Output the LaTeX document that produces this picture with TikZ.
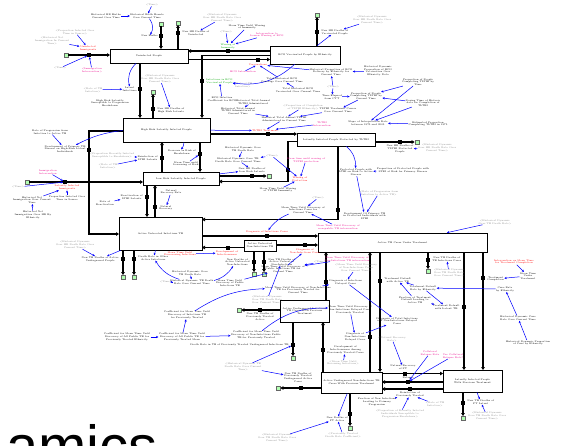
\documentclass[tikz,border=0pt]{standalone}
\usepackage{fontspec}
\setsansfont{Liberation Sans}
\usetikzlibrary{arrows.meta,shadows}
\begin{document}
\begin{tikzpicture}[x=1pt,y=-1pt,
 v/.style={font=\fontsize{2.4}{2.8}\selectfont, align=center, inner sep=0.2pt},
 sh/.style={v, text=black!45},
 rd/.style={v, text=red},
 mg/.style={v, text=magenta},
 gn/.style={v, text=green!65!black},
 stock/.style={draw, line width=0.7pt, fill=white, font=\fontsize{2.4}{2.8}\selectfont, align=center, inner sep=0pt,
   drop shadow={shadow xshift=0.9pt, shadow yshift=-0.9pt, fill=black!55, opacity=1}},
 valve/.style={fill=black, minimum width=3.6pt, minimum height=4pt, inner sep=0pt},
 cloud/.style={draw=black!60, fill=green!30!white, minimum width=4.5pt, minimum height=3.6pt, inner sep=0pt, line width=0.3pt},
 pipe/.style={line width=1.2pt},
 flow/.style={pipe, -{Triangle[length=3pt,width=3.6pt]}},
 ar/.style={blue, line width=0.5pt, -{Stealth[length=2.4pt,width=2.2pt]}},
]
\useasboundingbox[fill=white] (0,0) rectangle (583,445);

% ---------------- stocks ----------------
\node[stock, minimum width=78pt, minimum height=14pt] (U) at (149,56) {Uninfected People};
\node[stock, minimum width=70pt, minimum height=18pt] (B) at (305,55) {BCG Vaccinated People by Ethnicity};
\node[stock, minimum width=87pt, minimum height=24pt] (H) at (166.5,130) {High Risk Latently Infected People};
\node[stock, minimum width=76pt, minimum height=13pt] (L) at (181,178.5) {Low Risk Latently Infected People};
\node[stock, minimum width=78pt, minimum height=13pt] (P) at (336,139.5) {Latently Infected People Protected by TLTBI};
\node[stock, minimum width=83pt, minimum height=33pt] (AU) at (160.5,233.5) {Active Untreated Infectious TB};
\node[stock, minimum width=32pt, minimum height=11pt] (AN) at (260,245.5) {Active Untreated\\Non-Infectious TB};
\node[stock, minimum width=169pt, minimum height=19pt] (AT) at (402.5,242.5) {Active TB Cases Under Treatment};
\node[stock, minimum width=49pt, minimum height=22pt] (PI) at (304.5,311) {Active Undiagnosed Infectious\\TB Cases With Previous\\Treatment};
\node[stock, minimum width=61pt, minimum height=21pt] (PN) at (351.5,382.5) {Active Undiagnosed Non-Infectious TB\\Cases With Previous Treatment};
\node[stock, minimum width=59pt, minimum height=22pt] (PL) at (472.5,381) {Latently Infected People\\With Previous Treatment};

% ---------------- clouds ----------------
\node[cloud] (c1) at (161,24) {};
\node[cloud] (c2) at (178,23) {};
\node[cloud] (c3) at (66,55) {};
\node[cloud] (c8) at (317,15) {};
\node[cloud] (c9) at (153,92) {};
\node[cloud] (c13) at (27,182) {};
\node[cloud] (c16) at (269,176) {};
\node[cloud] (c19) at (417,142) {};
\node[cloud] (c24) at (254,274) {};
\node[cloud] (c25) at (264,274) {};
\node[cloud] (c26) at (123,277) {};
\node[cloud] (c27) at (134,277) {};
\node[cloud] (c31) at (428,271) {};
\node[cloud] (c34) at (239,310) {};
\node[cloud] (c35) at (293,358) {};
\node[cloud] (c37) at (278,388) {};
\node[cloud] (c38) at (350,428) {};
\node[cloud] (c42) at (463,418) {};

% ---------------- flow end points ----------------
\coordinate (p1) at (161,49);   \coordinate (p2) at (178,49);
\coordinate (p3) at (110,55);
\coordinate (p4a) at (140,63);  \coordinate (p4b) at (140,118);
\coordinate (p5a) at (270,51);  \coordinate (p5b) at (188,51);
\coordinate (p6a) at (270,55.5);\coordinate (p6k) at (202,55.5); \coordinate (p6b) at (202,118);
\coordinate (p7a) at (188,59.5);\coordinate (p7b) at (270,59.5);
\coordinate (p8) at (317,46);   \coordinate (p9) at (153,118);
\coordinate (p10a) at (123,131);\coordinate (p10k) at (89,131); \coordinate (p10m) at (89,234); \coordinate (p10b) at (119,234);
\coordinate (p11a) at (162,172);\coordinate (p11b) at (162,142);
\coordinate (p12a) at (200,142);\coordinate (p12b) at (200,172);
\coordinate (p13) at (143,182);
\coordinate (p14a) at (147,185);\coordinate (p14b) at (147,217);
\coordinate (p15a) at (155,217);\coordinate (p15b) at (155,185);
\coordinate (p16) at (219,176);
\coordinate (p17a) at (210,134);\coordinate (p17b) at (297,134);
\coordinate (p18a) at (297,141.5);\coordinate (p18k) at (288,141.5);\coordinate (p18m) at (288,181.5);\coordinate (p18b) at (219,181.5);
\coordinate (p19) at (375,142);
\coordinate (p20a) at (338,146);\coordinate (p20k) at (338,219.5);\coordinate (p20b) at (202,219.5);
\coordinate (p21a) at (202,236);\coordinate (p21b) at (318,236);
\coordinate (p22a) at (276,245);\coordinate (p22b) at (318,245);
\coordinate (p23a) at (244,247.5);\coordinate (p23b) at (202,247.5);
\coordinate (p24) at (254,251); \coordinate (p25) at (264,251);
\coordinate (p26) at (123,250); \coordinate (p27) at (134,250);
\coordinate (p28a) at (326,300);\coordinate (p28b) at (326,252);
\coordinate (p29a) at (380,252);\coordinate (p29b) at (380,372);
\coordinate (p30a) at (370,372);\coordinate (p30b) at (370,252);
\coordinate (p31) at (428,252);
\coordinate (p32a) at (464,252);\coordinate (p32b) at (464,370);
\coordinate (p33a) at (483,252);\coordinate (p33b) at (483,370);
\coordinate (p34) at (280,310);
\coordinate (p35) at (293,322);
\coordinate (p36a) at (323,372);\coordinate (p36b) at (323,322);
\coordinate (p37) at (321,388);
\coordinate (p38) at (350,393);
\coordinate (p39a) at (382,373.5);\coordinate (p39b) at (443,373.5);
\coordinate (p40a) at (443,382);\coordinate (p40b) at (382,382);
\coordinate (p41a) at (443,389);\coordinate (p41b) at (382,389);
\coordinate (p42) at (463,392);

% ---------------- pipes ----------------
\draw[flow] (c1) -- (p1);
\draw[flow] (p2) -- (c2);
\draw[flow] (c3) -- (p3);
\draw[flow] (p4a) -- (p4b);
\draw[flow] (p5a) -- (p5b);
\draw[flow] (p6a) -- (p6k) -- (p6b);
\draw[flow] (p7a) -- (p7b);
\draw[flow] (p8) -- (c8);
\draw[flow] (p9) -- (c9);
\draw[flow] (p10a) -- (p10k) -- (p10m) -- (p10b);
\draw[flow] (p11a) -- (p11b);
\draw[flow] (p12a) -- (p12b);
\draw[flow] (c13) -- (p13);
\draw[flow] (p14a) -- (p14b);
\draw[flow] (p15a) -- (p15b);
\draw[flow] (p16) -- (c16);
\draw[flow] (p17a) -- (p17b);
\draw[flow] (p18a) -- (p18k) -- (p18m) -- (p18b);
\draw[flow] (p19) -- (c19);
\draw[flow] (p20a) -- (p20k) -- (p20b);
\draw[flow] (p21a) -- (p21b);
\draw[flow] (p22a) -- (p22b);
\draw[flow] (p23a) -- (p23b);
\draw[flow] (p24) -- (c24);
\draw[flow] (p25) -- (c25);
\draw[flow] (p26) -- (c26);
\draw[flow] (p27) -- (c27);
\draw[flow] (p28a) -- (p28b);
\draw[flow] (p29a) -- (p29b);
\draw[flow] (p30a) -- (p30b);
\draw[flow] (p31) -- (c31);
\draw[flow] (p32a) -- (p32b);
\draw[flow] (p33a) -- (p33b);
\draw[flow] (p34) -- (c34);
\draw[flow] (p35) -- (c35);
\draw[flow] (p36a) -- (p36b);
\draw[flow] (p37) -- (c37);
\draw[flow] (p38) -- (c38);
\draw[flow] (p39a) -- (p39b);
\draw[flow] (p40a) -- (p40b);
\draw[flow] (p41a) -- (p41b);
\draw[flow] (p42) -- (c42);

% ---------------- valves ----------------
\node[valve] (v1) at (161,36) {};   \node[valve] (v2) at (178,33) {};
\node[valve] (v3) at (89,55) {};    \node[valve] (v4) at (140,89) {};
\node[valve] (v5) at (228,51) {};   \node[valve] (v6) at (202,81) {};
\node[valve] (v7) at (258,59.5) {}; \node[valve] (v8) at (317,32) {};
\node[valve] (v9) at (153,109) {};  \node[valve] (v10) at (89,150) {};
\node[valve] (v11) at (162,158) {}; \node[valve] (v12) at (200,154) {};
\node[valve] (v13) at (65,182) {};  \node[valve] (v14) at (147,197) {};
\node[valve] (v15) at (155,207) {}; \node[valve] (v16) at (252,176) {};
\node[valve] (v17) at (268,134) {}; \node[valve] (v18) at (288,170) {};
\node[valve] (v19) at (400,142) {}; \node[valve] (v20) at (338,210) {};
\node[valve] (v21) at (267,236) {}; \node[valve] (v22) at (305,245) {};
\node[valve] (v23) at (228,247.5) {};\node[valve] (v24) at (254,262) {};
\node[valve] (v25) at (264,262) {}; \node[valve] (v26) at (123,259) {};
\node[valve] (v27) at (134,259) {}; \node[valve] (v28) at (326,282) {};
\node[valve] (v29) at (380,281) {}; \node[valve] (v30) at (370,337) {};
\node[valve] (v31) at (428,260) {}; \node[valve] (v32) at (464,307) {};
\node[valve] (v33) at (483,278) {}; \node[valve] (v34) at (260,310) {};
\node[valve] (v35) at (293,345) {}; \node[valve] (v36) at (323,350) {};
\node[valve] (v37) at (301,388) {}; \node[valve] (v38) at (350,414) {};
\node[valve] (v39) at (405,373.5) {};\node[valve] (v40) at (408,382) {};
\node[valve] (v41) at (410,389) {}; \node[valve] (v42) at (463,403) {};

% ---------------- flow labels ----------------
\node[v, anchor=east] (l1) at (158,36) {New Births};
\node[v, anchor=west] (l2) at (182,33) {New HR Deaths of\\Uninfected};
\node[rd] (l3) at (88,48) {Uninfected\\Immigrants};
\node[v, anchor=east] (l4) at (137,89) {Latent\\Infections};
\node[gn] (l5) at (228,46) {Waning of\\Immunity};
\node[gn, anchor=west] (l6) at (206,81) {Infections in BCG\\Vaccinated People};
\node[rd] (l7) at (258,64.5) {Vaccinations};
\node[v, anchor=west] (l8) at (321,32) {New HR Deaths of\\Vaccinated People};
\node[v, anchor=west] (l9) at (157,110) {New HR Deaths of\\High Risk Latents};
\node[v, anchor=east] (l10) at (86,149) {Development of Primary TB\\Disease on High-Risk Latent\\Individuals};
\node[v, anchor=east] (l11) at (158,158) {Reinfection of\\LTBI Latents};
\node[v, anchor=east] (l12) at (196,152) {Decrease in Risk of\\Breakdown};
\node[rd] (l13) at (67,187.5) {Latently Infected\\Immigrants};
\node[v, anchor=east] (l14) at (143,197) {Reactivation of\\LTBI Latents};
\node[v, anchor=west] (l15) at (159,208) {Natural\\Recovery};
\node[v] (l16) at (252,170) {New HR Deaths of\\Low Risk Latents};
\node[rd] (l17) at (265,130.5) {TLTBI Treatment};
\node[rd, anchor=west] (l18) at (292,179) {Waning of\\Protection};
\node[v] (l19) at (400,149) {New HR Deaths of\\TLTBI Protected\\People};
\node[v, anchor=west] (l20) at (343,216) {Development Of Primary TB\\in Protected Individuals with\\LTBI};
\node[rd] (l21) at (267,231.5) {Diagnosis of Infectious Cases};
\node[rd] (l22) at (305,251) {Diagnosis of\\Non-Infectious Cases};
\node[rd] (l23) at (227,253) {Development of\\Infectiousness};
\node[v, anchor=east] (l24) at (250,262) {New Deaths of\\Active Untreated\\Non-Infectious};
\node[v, anchor=west] (l25) at (268,262) {New TB Deaths of\\Active Untreated\\Non-Infectious};
\node[v, anchor=east] (l26) at (119,259) {New TB Deaths of Active\\Undiagnosed People};
\node[v, anchor=west] (l27) at (138,258) {Death Rate in Other\\Active Infectious};
\node[v, anchor=west] (l28) at (329,282) {Diagnosis of Infectious\\Delayed Cases};
\node[v, anchor=west] (l29) at (384,280) {Treatment Default\\with Active TB};
\node[v, anchor=east] (l30) at (366,337) {Diagnosis of\\Non-Infectious\\Delayed Cases};
\node[v, anchor=west] (l31) at (432,259) {New TB Deaths of\\TB Infectious Cases};
\node[v, anchor=east] (l32) at (460,307) {Treatment Default\\with Latent TB};
\node[v, anchor=west] (l33) at (487,279) {Treatment\\Completion};
\node[v] (l34) at (260,316.5) {New TB Deaths of\\Previously Treated\\Active};
\node[v, anchor=east] (l35) at (289,345) {Death Rate in TB of Previously Treated Undiagnosed Infectious TB};
\node[v, anchor=west] (l36) at (327,350) {Development of\\Infectiousness Among\\Previously Treated Cases};
\node[v] (l37) at (298,377.5) {New TB Deaths of\\Previously Treated\\Undiagnosed Active\\Cases};
\node[v, anchor=east] (l38) at (348,419) {New Deaths of\\PT Active};
\node[v] (l39) at (403,367.5) {Natural Recovery\\of PT};
\node[v] (l40) at (408,378.3) {Relapse};
\node[v] (l41) at (410,394.5) {Reinfection of\\Previously Treated};
\node[v, anchor=west] (l42) at (467,402) {New TB Deaths of\\PT Latent};

% ---------------- auxiliaries: top ----------------
\node[sh] (tm1) at (152,5) {<Time>};
\node[v] (hbe) at (147,16) {Historical Birth Events\\Over Current Time};
\node[v] (hbr) at (106,16) {Historical HR Births\\Current Over Time};
\draw[ar] (tm1) -- (hbe);
\draw[ar] (hbr) -- (hbe);
\draw[ar] (hbe) to[bend left=35] (l1);
\node[sh] (hd1) at (222,18) {<Historical Dynamic\\Over HR Death Rate Over\\Current Time>};
\draw[ar] (hd1) -- (l2);
\node[sh] (pit) at (75,32) {<Proportion Infected Over\\Time in Source>};
\node[sh] (hni) at (52,41) {<Historical Net\\Immigration In Current\\Time>};
\node[sh] (tm2) at (60,68) {<Time>};
\node[mg] (ii) at (92,70) {<Immigration\\Intervention>};
\draw[ar] (pit) -- (l3); \draw[ar] (hni) -- (l3);
\draw[ar] (tm2) -- (v3); \draw[ar] (ii) -- (v3);
\draw[ar] (U) to[bend right=30] (l4);
\node[sh] (rti1) at (93,90) {<Rate of TB\\Infection>};
\draw[ar] (rti1) -- (l4);
\node[v] (hrs) at (110,103) {High Risk Latently\\Susceptible to Progression\\Breakdown};
\node[sh] (hd9) at (160,79) {<Historical Dynamic\\Over HR Death Rate Over\\Current Time>};
\draw[ar] (hd9) -- (l9);
\node[sh] (tm3) at (226,32) {<Time>};
\node[v] (mtw) at (247,27) {Mean Time Until Waning\\of Immunity};
\node[mg] (ilw) at (267,35) {Intervention to\\Lessen Waning of BCG};
\draw[ar] (tm3) -- (l5); \draw[ar] (mtw) -- (l5); \draw[ar] (ilw) -- (l5);
\node[mg] (bi) at (243,72) {BCG Intervention};
\draw[ar] (bi) -- (l7);
\node[sh] (rti2) at (243,85) {<Rate of TB\\Infection>};
\node[v] (bcgc) at (222,99) {BCG Infection\\Coefficient for BCG};
\draw[ar] (rti2) -- (l6); \draw[ar] (bcgc) -- (l6);
\draw[ar] (B) to[bend left=25] (l6);
\node[sh] (hd2) at (372,20) {<Historical Dynamic\\Over HR Death Rate Over\\Current Time>};
\draw[ar] (hd2) -- (l8);
\draw[ar] (B) -- (l8);
\node[v] (hdpb) at (378,71) {Historical Dynamic\\Proportion of BCG\\Vaccination Over\\Ethnicity Data};
\node[v] (hpb) at (331,72) {Historical Proportion of BCG\\Delivery by Ethnicity for\\Current Time};
\draw[ar] (hdpb) -- (hpb);
\draw[ar] (hpb) -- (l7);
\node[v] (thbc) at (282,80) {Total Historical BCG\\Coverage Over Current Time};
\node[v] (thbv) at (298,90) {Total Historical BCG\\Vaccinated Over Current Time};
\draw[ar] (thbc) -- (l7); \draw[ar] (thbv) -- (thbc);
\node[sh] (tm4) at (333,87) {<Time>};
\node[v] (te) at (332,97) {Time Elapsed\\from CTT};
\draw[ar] (tm4) -- (hpb); \draw[ar] (tm4) -- (te);
\node[v] (pct) at (366,96) {Proportion of People\\Completing TLTBI by\\Current Time};
\draw[ar] (te) -- (pct);
\node[v] (pct2) at (418,82) {Proportion of People\\Completing TLTBI by\\Time};
\node[v] (dt) at (423,103) {Dosing Time of Historic\\data for Completion of\\TLTBI};
\draw[ar] (pct2) -- (pct); \draw[ar] (dt) -- (pct);
\node[v] (ttc) at (338,110) {TLTBI Treatment Course\\Over Current Time};
\draw[ar] (pct) -- (ttc);
\node[v] (sir) at (368,123) {Slope of Interpolation Rate\\between 1975 and 2005};
\node[v] (epc) at (428,124) {Estimated Proportion\\Completing TLTBI in 1975};
\draw[ar] (epc) -- (sir); \draw[ar] (pct2) -- (sir); \draw[ar] (dt) -- (sir);
\node[v] (htad) at (253,102) {Historical Total Annual\\TLTBI Administered};
\node[v] (htac) at (238,111) {Historical Total Annual\\TLTBI Administered in\\Current Time};
\node[v] (htac2) at (284,119) {Historical Total Annual TLTBI\\Administered in Current Time};
\node[sh] (pctl) at (303,107) {<Proportion of Completion\\of TLTBI Ethnicity>};
\draw[ar] (htad) -- (htac); \draw[ar] (htac) -- (htac2);
\draw[ar] (ttc) -- (htac2); \draw[ar] (pctl) -- (htac2);
\draw[ar] (htac2) -- (l17);
\node[mg] (ti) at (322,124) {TLTBI\\Intervention};
\draw[ar] (ti) -- (l17);
\draw[ar] (H) -- (l17);

% ---------------- auxiliaries: middle ----------------
\node[v] (rp) at (50,132) {Rate of Progression from\\Infection to Active TB};
\draw[ar] (rp) -- (l10);
\draw[ar] (H) to[bend right=10] (l10);
\node[sh] (ehr) at (112,155) {<Proportion Recently Infected\\Susceptible to Breakdown>};
\node[sh] (rti3) at (108,166) {<Rate of TB\\Infection>};
\draw[ar] (ehr) -- (l11); \draw[ar] (rti3) -- (l11);
\draw[ar] (H) to[bend left=20] (l12);
\node[v] (mtl) at (186,164) {Mean Time until\\Lessening of Risk};
\draw[ar] (mtl) -- (v12);
\node[v] (nrr) at (171,192) {Natural\\Recovery Rate};
\draw[ar] (nrr) -- (l15);
\node[v] (rr) at (105,203) {Rate of\\Reactivation};
\draw[ar] (rr) -- (l14);
\node[v] (hdt) at (243,149) {Historical Dynamic Over\\TB Death Rate};
\node[v] (hdtc) at (238,160) {Historical Dynamic Over TB\\Death Rate Over Current Time};
\node[sh] (tm5) at (272,156) {<Time>};
\draw[ar] (hdt) -- (hdtc); \draw[ar] (tm5) -- (hdtc);
\draw[ar] (hdtc) -- (l16); \draw[ar] (L) -- (l16);
\draw[ar] (tm5) -- (l18);
\node[mg] (mtwp) at (306,160) {Mean time until waning of\\TLTBI protection};
\node[v] (mtwt) at (278,190) {Mean Time Until Waning\\of TLTBI Immunity};
\draw[ar] (mtwp) -- (l18); \draw[ar] (mtwt) -- (l18);
\node[sh] (hd3) at (437,148) {<Historical Dynamic\\Over HR Death Rate Over\\Current Time>};
\draw[ar] (hd3) -- (l19);
\node[v] (ppl) at (356,172) {Protected People with\\LTBI on Risk to Active\\Disease};
\node[v] (ppr) at (403,170) {Proportion of Protected People with\\LTBI at Risk for Primary Disease};
\draw[ar] (P) to[bend left=25] (ppl);
\draw[ar] (ppr) -- (ppl);
\node[sh] (rp2) at (379,193) {<Rate of Progression from\\Infection to Active TB>};
\draw[ar] (rp2) -- (l20); \draw[ar] (ppl) -- (l20);

% ---------------- auxiliaries: left ----------------
\node[sh] (tm6) at (18,187) {<Time>};
\node[mg] (ii2) at (48,172) {Immigration\\Intervention};
\draw[ar] (tm6) -- (v13); \draw[ar] (ii2) -- (v13);
\node[v] (hnic) at (32,200) {Historical Net\\Immigration Over Current\\Time};
\node[v] (pis) at (67,198) {Proportion Infected Over\\Time in Source};
\node[v] (hnie) at (33,215) {Historical Net\\Immigration Over HR By\\Ethnicity};
\draw[ar] (hnic) -- (l13); \draw[ar] (pis) -- (l13); \draw[ar] (hnie) -- (hnic);
\node[sh] (hd4) at (75,245) {<Historical Dynamic\\Over HR Death Rate Over\\Current Time>};
\draw[ar] (hd4) -- (l26); \draw[ar] (AU) -- (l26); \draw[ar] (AU) -- (l27);
\node[rd] (mtdi) at (180,254) {Mean Time Until\\Discovering Infectious};
\draw[ar] (mtdi) -- (l23);

% ---------------- auxiliaries: lower middle ----------------
\node[v] (hdo) at (190,273) {Historical Dynamic Over\\TB Death Rate};
\node[v] (hdoc) at (192,282) {Historical Dynamic TB Death\\Rate Over Current Time};
\node[sh] (tm7) at (166,282) {<Time>};
\draw[ar] (hdo) -- (hdoc); \draw[ar] (tm7) -- (hdoc);
\draw[ar] (hdoc) to[bend left=20] (l27);
\draw[ar] (hdoc) to[bend right=20] (l24);
\node[v] (mtdp) at (230,283) {Mean Time Until\\Discovery of Public\\Infectious TB};
\node[v] (mtdpc) at (283,269) {Mean Time Until Discovery of\\Public Infectious TB for\\Current Time};
\draw[ar] (mtdp) -- (mtdpc); \draw[ar] (mtdpc) -- (l22);
\node[v] (mtdn) at (298,290) {Mean Time Until Discovery of Non-Infectious\\TB for Previously Treated for\\Current Time};
\draw[ar] (mtdn) -- (l28);
\node[sh] (hd5) at (267,300) {<Historical Dynamic\\Over TB Death Rate\\Over Current Time>};
\draw[ar] (hd5) -- (l25);
\node[v] (cm1) at (187,315) {Coefficient for Mean Time Until\\Discovery of Infectious TB\\for Previously Treated};
\draw[ar] (cm1) to[bend left=15] (mtdn);
\node[v] (cm2) at (127,337) {Coefficient for Mean Time Until\\Discovery of All Public TB for\\Previously Treated Ethnicity};
\node[v] (cm3) at (182,337) {Coefficient for Mean Time Until\\Discovery of All Public TB for\\Previously Treated Mean};
\node[v] (cm4) at (256,335) {Coefficient for Mean Time Until\\Discovery of Non-Infectious Public\\TB for Previously Treated};
\draw[ar] (cm2) -- (cm3); \draw[ar] (cm3) -- (cm4); \draw[ar] (cm3) -- (cm1);
\node[v] (mtdnd) at (350,310) {Mean Time Until Discovery of\\Non-Infectious Delayed Cases\\Previously Treated};
\draw[ar] (cm4) to[bend left=20] (mtdnd);
\draw[ar] (mtdnd) -- (l30);
\node[v] (dtd) at (397,321) {Diagnosis of Total Infectious\\and Non-Infectious Delayed\\Cases};
\draw[ar] (l28) -- (dtd); \draw[ar] (l30) -- (dtd);
\node[sh] (hd6) at (243,367) {<Historical Dynamic TB\\Death Rate Over Current\\Time>};
\draw[ar] (hd6) -- (v35); \draw[ar] (hd6) -- (l37);
\node[sh] (hd7) at (277,438) {<Historical Dynamic\\Over TB Death Rate Over\\Current Time>};
\draw[ar] (hd7) -- (l38);
\node[sh] (ptd) at (343,435) {<Previously Treated\\Death Rate Coefficient>};
\draw[ar] (ptd) -- (l38); \draw[ar] (PN) -- (l38);
\node[sh] (mtbi) at (343,363) {<Mean Time Until\\Becoming Infectious>};
\draw[ar] (mtbi) -- (l36);
\node[sh] (nrr2) at (392,339) {<Natural Recovery\\Rate>};
\draw[ar] (nrr2) -- (l39);
\node[mg] (crr) at (430,353) {Collateral\\Relapse Rate};
\node[mg] (ucr) at (453,356) {Use Collateral\\Relapse Rate?};
\draw[ar] (crr) -- (v40); \draw[ar] (ucr) -- (v40);
\node[v] (fni) at (377,402) {Fraction of New Infections\\Leading to Primary\\Progression};
\node[sh] (rti4) at (435,404) {<Rate of TB\\Infection>};
\node[sh] (pri) at (400,414) {<Proportion of Recently Infected\\Individuals Susceptible to\\Progression Breakdown>};
\draw[ar] (fni) -- (l41); \draw[ar] (rti4) -- (l41); \draw[ar] (pri) -- (l41);
\node[sh] (hd8) at (487,416) {<Historical Dynamic\\Over TB Death Rate Over\\Current Time>};
\draw[ar] (hd8) -- (l42); \draw[ar] (PL) -- (l42);

% ---------------- auxiliaries: around treatment ----------------
\node[sh] (tm8) at (318,198) {<Time>};
\node[v] (mtdc) at (303,210) {Mean Time Until Discovery of\\Infectious Cases for\\Current Time};
\node[mg] (mgd) at (338,227) {Mean Time Until Discovery of\\non-public TB intervention};
\draw[ar] (tm8) -- (mtdc); \draw[ar] (mgd) -- (mtdc); \draw[ar] (mtdc) to[bend right=15] (l21);
\node[mg] (mg2) at (347,259) {Mean Time Until Discovery of\\Non-Infectious TB intervention};
\node[sh] (gmtd) at (356,268) {<Mean Time Until Discovery\\of Non-Infectious Cases\\Over Current Time>};
\node[sh] (tm9) at (320,262) {<Time>};
\draw[ar] (mg2) -- (mtdpc); \draw[ar] (tm9) -- (mtdpc); \draw[ar] (gmtd) -- (l28);
\node[sh] (hd10) at (449,273) {<Historical Dynamic\\Over TB Death Rate\\Over Current Time>};
\draw[ar] (hd10) -- (l31);
\node[v] (tdr) at (423,288) {Treatment Default\\Rate by Ethnicity};
\node[v] (ftd) at (415,300) {Fraction of Treatment\\Default Leading to\\Active TB};
\draw[ar] (tdr) -- (l29); \draw[ar] (tdr) -- (l32);
\draw[ar] (ftd) -- (l29); \draw[ar] (ftd) -- (l32);
\node[v] (crb) at (505,289) {Cure Rate\\by Ethnicity};
\draw[ar] (crb) -- (tdr);
\node[rd] (tci) at (514,262) {Intervention on Mean Time\\for Treatment Completion};
\node[v] (mtut) at (528,276) {Mean Time\\Under\\Treatment};
\draw[ar] (tci) -- (mtut); \draw[ar] (mtut) -- (l33);
\node[v] (hdcr) at (518,318) {Historical Dynamic Cure\\Rate Over Current Time};
\node[v] (hdpr) at (528,343) {Historical Dynamic Proportion\\of Cure by Ethnicity};
\draw[ar] (hdpr) -- (hdcr); \draw[ar] (hdcr) -- (crb);
\node[sh] (hd11) at (495,222) {<Historical Dynamic\\Over TB Death Rate>};
\draw[ar] (hd11) -- (AT);

% ---------------- large cropped title ----------------
\node[font=\sffamily\fontsize{58}{60}\selectfont, anchor=base west, inner sep=0pt] (ttl) at (6,466) {amics};
\end{tikzpicture}
\end{document}
